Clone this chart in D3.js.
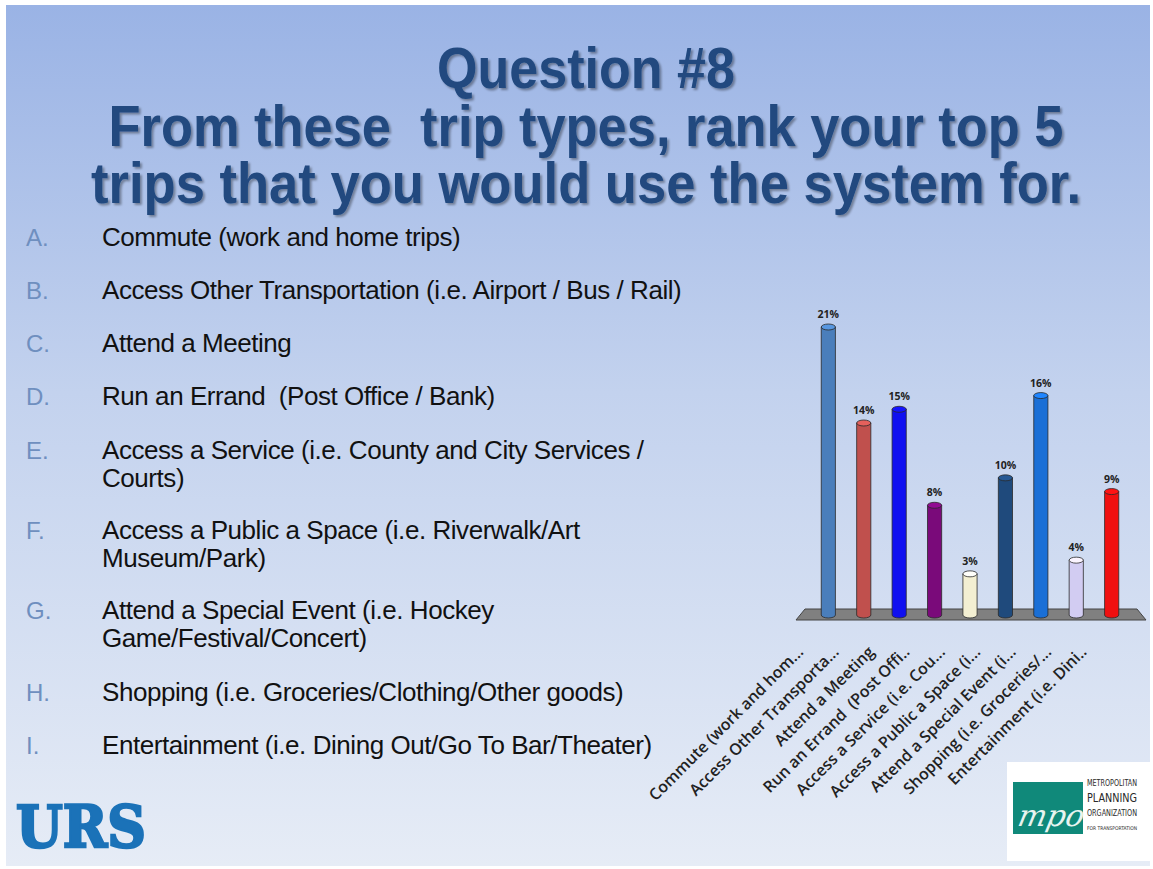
<!DOCTYPE html>
<html>
<head>
<meta charset="utf-8">
<script src="https://cdn.jsdelivr.net/npm/d3@7"></script>
<style>
  body { margin: 0; background: #fff; }
  svg { display: block; }
  text { white-space: pre; }
</style>
</head>
<body>
<svg id="slide"></svg>
<script>
var width = 1153;
var height = 869;

// chart data
var categories = ["Commute (work and hom...", "Access Other Transporta...", "Attend a Meeting",
  "Run an Errand  (Post Offi..", "Access a Service (i.e. Cou...", "Access a Public a Space (i...",
  "Attend a Special Event (i...", "Shopping (i.e. Groceries/...", "Entertainment (i.e. Dini.."];
var percents = [21, 14, 15, 8, 3, 10, 16, 4, 9];
var barColors = ["#4a7ebb", "#c0504d", "#1010f0", "#7a0a7a", "#f3efd2", "#1f4a7c", "#1a6fd6", "#d2ccf2", "#f01010"];

// slide text
var titleLines = ["Question #8", "From these  trip types, rank your top 5", "trips that you would use the system for."];
var listLetters = ["A.", "B.", "C.", "D.", "E.", "F.", "G.", "H.", "I."];
var listItems = [
  ["Commute (work and home trips)"],
  ["Access Other Transportation (i.e. Airport / Bus / Rail)"],
  ["Attend a Meeting"],
  ["Run an Errand  (Post Office / Bank)"],
  ["Access a Service (i.e. County and City Services /", "Courts)"],
  ["Access a Public a Space (i.e. Riverwalk/Art", "Museum/Park)"],
  ["Attend a Special Event (i.e. Hockey", "Game/Festival/Concert)"],
  ["Shopping (i.e. Groceries/Clothing/Other goods)"],
  ["Entertainment (i.e. Dining Out/Go To Bar/Theater)"]
];
var listTops = [246, 299, 352, 405, 459, 539, 619, 701, 754];

var svg = d3.select("#slide")
  .attr("width", width)
  .attr("height", height);

var defs = svg.append("defs");
var bg = defs.append("linearGradient").attr("id", "bg")
  .attr("x1", 0).attr("y1", 0).attr("x2", 0).attr("y2", 1);
bg.append("stop").attr("offset", "0%").attr("stop-color", "#9ab3e5");
bg.append("stop").attr("offset", "45%").attr("stop-color", "#c3d2ee");
bg.append("stop").attr("offset", "100%").attr("stop-color", "#e6ecf6");

var shadow = defs.append("filter").attr("id", "shadow")
  .attr("x", "-10%").attr("y", "-30%").attr("width", "120%").attr("height", "160%");
shadow.append("feDropShadow").attr("dx", 2).attr("dy", 2).attr("stdDeviation", 1.2)
  .attr("flood-color", "#000").attr("flood-opacity", 0.35);

svg.append("rect")
  .attr("x", 6).attr("y", 5)
  .attr("width", width - 9).attr("height", height - 8)
  .attr("fill", "url(#bg)");

// title
var titleBase = [88, 146, 203];
var titleWidth = [298, 955, 990];
svg.selectAll(".title")
  .data(titleLines)
  .enter().append("text")
  .attr("class", "title")
  .attr("x", 586)
  .attr("y", function(d, i) { return titleBase[i]; })
  .attr("text-anchor", "middle")
  .attr("textLength", function(d, i) { return titleWidth[i]; })
  .attr("lengthAdjust", "spacingAndGlyphs")
  .attr("font-family", "Liberation Sans, Arial, sans-serif")
  .attr("font-weight", "bold")
  .attr("font-size", 58)
  .attr("fill", "#21497f")
  .attr("filter", "url(#shadow)")
  .text(function(d) { return d; });

// list on the left
var items = svg.selectAll(".item")
  .data(listItems)
  .enter().append("g")
  .attr("class", "item")
  .attr("transform", function(d, i) { return "translate(0," + listTops[i] + ")"; });

items.append("text")
  .attr("x", 26)
  .attr("font-family", "Liberation Sans, Arial, sans-serif")
  .attr("font-size", 24)
  .attr("fill", "#6f8fbf")
  .text(function(d, i) { return listLetters[i]; });

items.each(function(lines) {
  d3.select(this).selectAll(".line")
    .data(lines)
    .enter().append("text")
    .attr("class", "line")
    .attr("x", 102)
    .attr("y", function(d, j) { return j * 28; })
    .attr("font-family", "Liberation Sans, Arial, sans-serif")
    .attr("font-size", 26)
    .attr("letter-spacing", -0.45)
    .attr("fill", "#111")
    .text(function(d) { return d; });
});

// bar chart
var x = d3.scaleBand()
  .domain(categories)
  .range([800, 1140])
  .padding(0.6);

var y = d3.scaleLinear()
  .domain([0, 21])
  .range([615, 327]);

var floorTop = 609, floorBottom = 620;
svg.append("polygon")
  .attr("points", [[x.range()[0] + 5, floorTop], [x.range()[1] - 3, floorTop],
    [x.range()[1] + 6, floorBottom], [x.range()[0] - 4, floorBottom]].join(" "))
  .attr("fill", "#808080")
  .attr("stroke", "#444")
  .attr("stroke-width", 1);

var bw = x.bandwidth();
var ry = 3;

var bars = svg.selectAll(".bar")
  .data(percents)
  .enter().append("g")
  .attr("class", "bar");

bars.append("path")
  .attr("d", function(d, i) {
    var x0 = x(categories[i]), x1 = x0 + bw, top = y(d), bot = y(0);
    return "M" + x0 + "," + top + " L" + x0 + "," + bot +
      " A" + bw / 2 + "," + ry + " 0 0 0 " + x1 + "," + bot +
      " L" + x1 + "," + top + " Z";
  })
  .attr("fill", function(d, i) { return barColors[i]; })
  .attr("stroke", "#2a2a2a")
  .attr("stroke-width", 0.8);

bars.append("ellipse")
  .attr("cx", function(d, i) { return x(categories[i]) + bw / 2; })
  .attr("cy", function(d) { return y(d); })
  .attr("rx", bw / 2)
  .attr("ry", ry)
  .attr("fill", function(d, i) { return d3.color(barColors[i]).brighter(0.5); })
  .attr("stroke", "#2a2a2a")
  .attr("stroke-width", 0.8);

bars.append("text")
  .attr("x", function(d, i) { return x(categories[i]) + bw / 2; })
  .attr("y", function(d) { return y(d) - 9; })
  .attr("text-anchor", "middle")
  .attr("font-family", "Open Sans, sans-serif")
  .attr("font-weight", "bold")
  .attr("font-size", 10.5)
  .attr("fill", "#222")
  .text(function(d) { return d + "%"; });

svg.selectAll(".xlabel")
  .data(categories)
  .enter().append("text")
  .attr("class", "xlabel")
  .attr("transform", function(d) {
    return "translate(" + (x(d) + bw / 2 - 24) + ",653) rotate(-45)";
  })
  .attr("text-anchor", "end")
  .attr("font-family", "Open Sans, sans-serif")
  .attr("font-weight", 600)
  .attr("font-size", 16)
  .attr("fill", "#222")
  .text(function(d) { return d; });

// URS logo
svg.append("text")
  .attr("x", 16).attr("y", 847)
  .attr("textLength", 130)
  .attr("lengthAdjust", "spacingAndGlyphs")
  .attr("font-family", "DejaVu Serif, serif")
  .attr("font-weight", "bold")
  .attr("font-size", 58)
  .attr("fill", "#1b72b8")
  .attr("stroke", "#1b72b8")
  .attr("stroke-width", 2.5)
  .text("URS");

// MPO logo
var mpo = svg.append("g");
mpo.append("rect").attr("x", 1007).attr("y", 762).attr("width", 143).attr("height", 99).attr("fill", "#fff");
mpo.append("rect").attr("x", 1013).attr("y", 782).attr("width", 70).attr("height", 52).attr("fill", "#10897a");
mpo.append("text")
  .attr("x", 1022).attr("y", 826)
  .attr("font-family", "DejaVu Serif, serif")
  .attr("font-style", "italic")
  .attr("font-size", 30)
  .attr("fill", "#e8f4f0")
  .attr("transform", "skewX(-12)")
  .attr("dx", 170)
  .text("mpo");
var mpoWords = ["METROPOLITAN", "PLANNING", "ORGANIZATION", "FOR TRANSPORTATION"];
var mpoSizes = [8, 12, 8, 5];
var mpoY = [786, 802, 816, 830];
mpo.selectAll(".mw")
  .data(mpoWords)
  .enter().append("text")
  .attr("x", 1087)
  .attr("y", function(d, i) { return mpoY[i]; })
  .attr("textLength", 50)
  .attr("lengthAdjust", "spacingAndGlyphs")
  .attr("font-family", "DejaVu Sans Condensed, sans-serif")
  .attr("font-size", function(d, i) { return mpoSizes[i]; })
  .attr("fill", "#2a2a2a")
  .text(function(d) { return d; });
</script>
</body>
</html>
